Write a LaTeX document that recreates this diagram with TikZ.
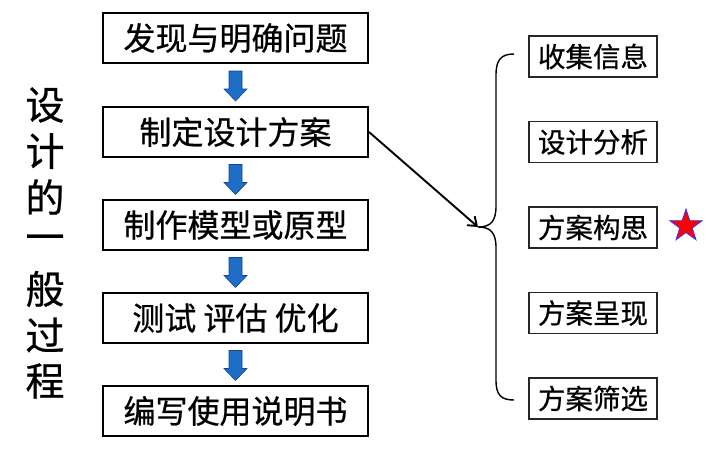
\documentclass[tikz,border=0pt]{standalone}
\usepackage{fontspec}
\setmainfont{Noto Sans CJK SC}[FakeBold=0.6]
\usetikzlibrary{calc,shapes.geometric,arrows.meta}
\definecolor{arrblue}{RGB}{30,110,200}
\definecolor{arrdark}{RGB}{25,70,140}
\begin{document}
\begin{tikzpicture}[x=1pt,y=-1pt,
  mainbox/.style={draw=black,line width=2pt,minimum width=265pt,minimum height=50pt,inner sep=0pt,font=\fontsize{32}{34}\selectfont},
  subbox/.style={draw=black!85,line width=1.5pt,minimum width=128pt,minimum height=41pt,inner sep=0pt,font=\fontsize{27.5}{30}\selectfont},
  vchar/.style={font=\fontsize{39}{41}\selectfont,inner sep=0pt},
  bluearrow/.style={fill=arrblue,draw=arrdark,line width=0.6pt}]
\useasboundingbox (0,0) rectangle (720,450);
\node[mainbox] (b1) at (235.5,38) {发现与明确问题};
\node[mainbox] (b2) at (235.5,132) {制定设计方案};
\node[mainbox] (b3) at (235.5,225) {制作模型或原型};
\node[mainbox] (b4) at (235.5,318) {测试 评估 优化};
\node[mainbox] (b5) at (235.5,411) {编写使用说明书};
\foreach \a/\b in {b1/b2,b2/b3,b3/b4,b4/b5}{
  \coordinate (m) at ($(\a.south)!0.5!(\b.north)$);
  \filldraw[bluearrow] ($(m)+(-6.5,-14)$) -- ($(m)+(6.5,-14)$) -- ($(m)+(6.5,4)$) -- ($(m)+(11.5,4)$) -- ($(m)+(0,16)$) -- ($(m)+(-11.5,4)$) -- ($(m)+(-6.5,4)$) -- cycle;
}
\foreach \c [count=\i from 0] in {设,计,的,一,般,过,程}{
  \node[vchar] (v\i) at (45,105+\i*46) {\c};
}
\node[subbox] (s1) at (593,56.5) {收集信息};
\node[subbox] (s2) at (593,142) {设计分析};
\node[subbox] (s3) at (593,227.5) {方案构思};
\node[subbox] (s4) at (593,313) {方案呈现};
\node[subbox] (s5) at (593,398.5) {方案筛选};
\node[star,star points=5,star point ratio=2.6,minimum size=34pt,inner sep=0pt,fill=red,draw=blue!80,line width=0.8pt] (star) at (686,226) {};
\coordinate (tip) at (478,227);
\draw[line width=1.4pt] (514,54) .. controls (501,54) and (496,60) .. (496,75) -- (496,206) .. controls (496,221) and (491,227) .. (tip) .. controls (491,227) and (496,233) .. (496,248) -- (496,380) .. controls (496,395) and (501,400) .. (514,400);
\draw[line width=1.9pt,-{Straight Barb[length=8pt,width=12pt]}] (b2.east) -- (tip);
\end{tikzpicture}
\end{document}
